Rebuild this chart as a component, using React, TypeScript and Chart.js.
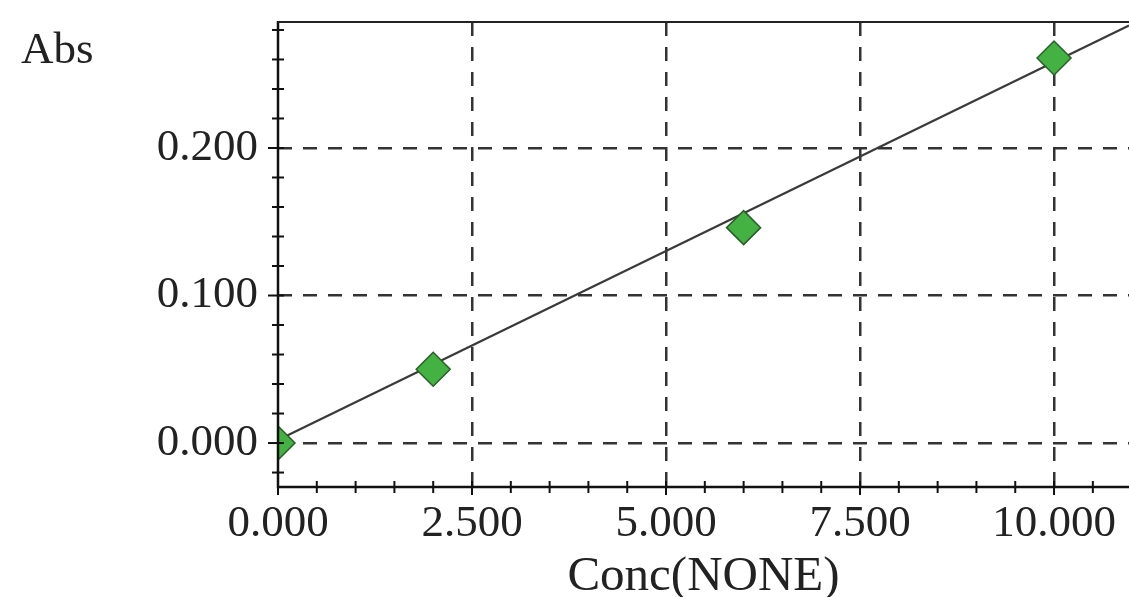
import React, { useEffect, useRef } from "react";
import { Chart, registerables } from "chart.js";

Chart.register(...registerables);

const concValues = [0, 2, 6, 10];
const absValues = [0.0, 0.05, 0.146, 0.261];
const fitX = [0, 10.966];
const fitY = [0.002, 0.283];
const xTickValues = [0, 2.5, 5, 7.5, 10];
const yTickValues = [0, 0.1, 0.2];
const xMinorStep = 0.5;
const yMinorStep = 0.02;
const xRange = [0, 10.966];
const yRange = [-0.0298, 0.2854];
const xTitle = "Conc(NONE)";
const yTitle = "Abs";

const FONT = "'Liberation Serif', 'Times New Roman', serif";
const TEXT = "#222";

const decor = {
  id: "decor",
  afterDraw(chart: any) {
    const { ctx, chartArea } = chart;
    const xs = chart.scales.x;
    const ys = chart.scales.y;
    const { left, right, top, bottom } = chartArea;
    ctx.save();
    ctx.setLineDash([]);
    ctx.strokeStyle = "#111";
    ctx.lineWidth = 2.5;
    ctx.beginPath();
    ctx.moveTo(left, top - 1);
    ctx.lineTo(left, bottom);
    ctx.lineTo(right, bottom);
    ctx.stroke();
    ctx.lineWidth = 2;
    ctx.strokeStyle = "#222";
    ctx.beginPath();
    ctx.moveTo(left, top);
    ctx.lineTo(right, top);
    ctx.stroke();
    ctx.strokeStyle = "#111";
    ctx.lineWidth = 2;
    const nx = Math.floor((xRange[1] - xRange[0]) / xMinorStep + 1e-6);
    for (let i = 0; i <= nx; i++) {
      const v = xRange[0] + i * xMinorStep;
      const px = xs.getPixelForValue(v);
      const major = xTickValues.some((t) => Math.abs(t - v) < 1e-6);
      ctx.beginPath();
      ctx.moveTo(px, bottom - 6);
      ctx.lineTo(px, bottom + (major ? 8 : 6));
      ctx.stroke();
    }
    const startY = Math.ceil(yRange[0] / yMinorStep - 1e-6);
    const endY = Math.floor(yRange[1] / yMinorStep + 1e-6);
    for (let i = startY; i <= endY; i++) {
      const v = i * yMinorStep;
      const py = ys.getPixelForValue(v);
      const major = yTickValues.some((t) => Math.abs(t - v) < 1e-6);
      ctx.beginPath();
      ctx.moveTo(left - (major ? 10 : 6), py);
      ctx.lineTo(left + 6, py);
      ctx.stroke();
    }
    ctx.fillStyle = TEXT;
    ctx.font = `45px ${FONT}`;
    ctx.textAlign = "left";
    ctx.textBaseline = "alphabetic";
    ctx.fillText(yTitle, 21, 63);
    ctx.restore();
  },
};

export default function App() {
  const ref = useRef<HTMLCanvasElement>(null);
  useEffect(() => {
    document.body.style.margin = "0";
    const chart = new Chart(ref.current as HTMLCanvasElement, {
      type: "scatter",
      data: {
        datasets: [
          {
            label: "points",
            data: concValues.map((x, i) => ({ x, y: absValues[i] })),
            pointStyle: "rectRot",
            pointRadius: 17,
            pointBackgroundColor: "#43b243",
            pointBorderColor: "#2a5e2a",
            pointBorderWidth: 1.5,
            showLine: false,
            order: 0,
          },
          {
            label: "fit",
            data: fitX.map((x, i) => ({ x, y: fitY[i] })),
            showLine: true,
            borderColor: "#3a3a3a",
            borderWidth: 2.2,
            pointRadius: 0,
            order: 1,
          },
        ],
      },
      options: {
        responsive: false,
        animation: false,
        layout: { autoPadding: false, padding: { top: 22, left: 0, right: 0, bottom: 0 } },
        plugins: { legend: { display: false }, tooltip: { enabled: false } },
        scales: {
          x: {
            type: "linear",
            min: xRange[0],
            max: xRange[1],
            afterBuildTicks: (s: any) => {
              s.ticks = xTickValues.map((v) => ({ value: v }));
            },
            afterFit: (s: any) => {
              s.height = 110;
              s.paddingLeft = 0;
              s.paddingRight = 0;
            },
            grid: {
              drawTicks: false,
              lineWidth: 2.5,
              color: (c: any) =>
                c.tick && Math.abs(c.tick.value) < 1e-9 ? "rgba(0,0,0,0)" : "#333",
            },
            border: { display: false, dash: [14, 11] },
            ticks: {
              padding: 10,
              color: TEXT,
              font: { family: FONT, size: 45 },
              maxRotation: 0,
              autoSkip: false,
              callback: (v: any) => Number(v).toFixed(3),
            },
            title: {
              display: true,
              text: xTitle,
              color: TEXT,
              font: { family: FONT, size: 49, lineHeight: 0.8 },
              padding: 0,
            },
          },
          y: {
            type: "linear",
            min: yRange[0],
            max: yRange[1],
            afterBuildTicks: (s: any) => {
              s.ticks = yTickValues.map((v) => ({ value: v }));
            },
            afterFit: (s: any) => {
              s.width = 278;
              s.paddingTop = 0;
              s.paddingBottom = 0;
            },
            grid: {
              drawTicks: false,
              lineWidth: 2.5,
              color: "#333",
            },
            border: { display: false, dash: [14, 11] },
            ticks: {
              padding: 20,
              color: TEXT,
              font: { family: FONT, size: 45 },
              autoSkip: false,
              callback: (v: any) => Number(v).toFixed(3),
            },
          },
        },
      },
      plugins: [decor],
    });
    return () => chart.destroy();
  }, []);
  return (
    <div style={{ position: "fixed", left: 0, top: 0, width: 1129, height: 597, background: "#fff" }}>
      <canvas ref={ref} width={1129} height={597} style={{ display: "block" }} />
    </div>
  );
}
